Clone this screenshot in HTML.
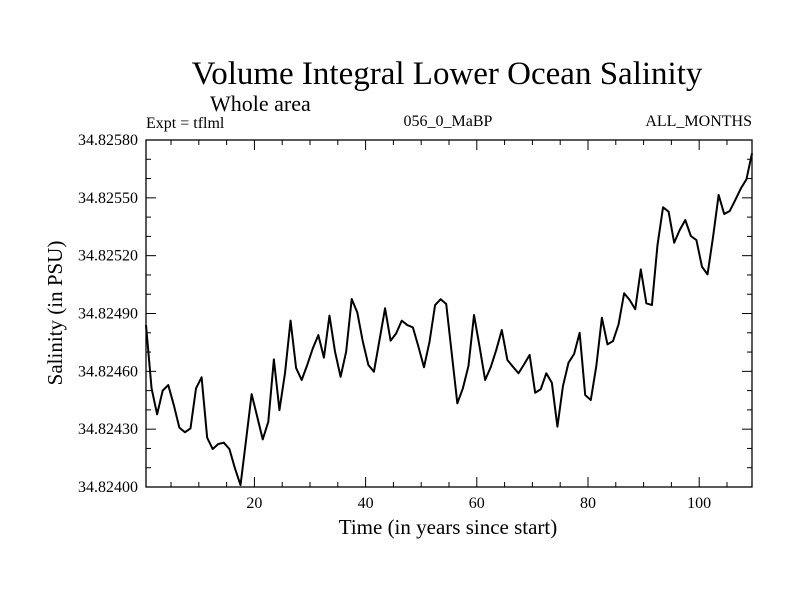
<!DOCTYPE html>
<html><head><meta charset="utf-8"><style>
html,body{margin:0;padding:0;background:#fff;}
svg{display:block;font-family:"Liberation Serif",serif;}
</style></head><body>
<svg id="chart" width="800" height="600" viewBox="0 0 800 600">
<text x="447" y="84" font-size="33" text-anchor="middle">Volume Integral Lower Ocean Salinity</text>
<text x="210" y="111" font-size="22">Whole area</text>
<text x="146" y="128" font-size="16">Expt = tflml</text>
<text x="448" y="126" font-size="16" text-anchor="middle">056_0_MaBP</text>
<text x="752" y="126" font-size="16" text-anchor="end">ALL_MONTHS</text>
<text x="448" y="534" font-size="21" text-anchor="middle">Time (in years since start)</text>
<text transform="translate(62,313) rotate(-90)" font-size="21" text-anchor="middle">Salinity (in PSU)</text>
<g id="axes"></g>
<path id="series" fill="none" stroke="#000" stroke-width="2" stroke-linejoin="round"></path>
<rect x="146" y="140" width="606" height="347" fill="none" stroke="#000" stroke-width="1.3"></rect>
</svg>
<script>
const yValues = [84.0,51.2,37.7,50.0,52.9,42.5,30.8,28.4,30.4,51.2,56.9,25.6,19.7,22.3,23.0,19.7,9.7,1.0,24.4,48.2,
36.5,24.7,33.9,66.2,39.9,59.0,86.3,61.7,55.5,63.3,71.9,78.8,67.1,88.9,70.2,57.2,70.2,97.5,90.6,75.4,
63.3,59.8,76.2,92.7,75.9,79.7,86.3,84.0,82.8,72.8,62.1,75.4,94.4,97.4,94.9,69.1,43.4,51.2,62.8,89.2,
72.8,55.5,62.1,71.1,81.4,65.9,62.4,59.0,63.6,68.5,48.9,50.7,59.0,54.1,31.3,52.4,64.5,69.0,80.0,47.7,
45.1,62.8,87.8,74.0,75.7,84.4,100.5,97.0,92.2,112.9,95.3,94.4,125.5,145.1,142.8,126.7,133.3,138.5,130.2,128.1,
114.3,110.3,129.8,151.5,141.6,143.2,148.9,154.9,159.6,173.1];
const xTickValues = [20,40,60,80,100];
const yTickLabels = ["34.82400","34.82430","34.82460","34.82490","34.82520","34.82550","34.82580"];
const yTickValues = [0,30,60,90,120,150,180];

const L=146,R=752,T=140,B=487;
function xScale(t){return L+(t-0.5)*(R-L)/109;}
function yScale(v){return B-v*(B-T)/180;}
const NS="http://www.w3.org/2000/svg";
const ax=document.getElementById('axes');
function line(x1,y1,x2,y2,name){
  const l=document.createElementNS(NS,'line');
  l.setAttribute('x1',x1);l.setAttribute('y1',y1);l.setAttribute('x2',x2);l.setAttribute('y2',y2);
  l.setAttribute('stroke','#000');l.setAttribute('stroke-width','1');
  
  
  ax.appendChild(l);
}
function text(x,y,s,anchor,name){
  const t=document.createElementNS(NS,'text');
  t.setAttribute('x',x);t.setAttribute('y',y);t.setAttribute('font-size','16');t.setAttribute('text-anchor',anchor);
  t.textContent=s;
  
  
  ax.appendChild(t);
}
for(let t=5;t<=105;t+=5){
  const x=xScale(t), major=t%20===0, len=major?10:5;
  line(x,B,x,B-len,'x-tick');
  line(x,T,x,T+len,'x-tick-top');
}
xTickValues.forEach(v=>text(xScale(v),508,String(v),'middle','x-tick-label'));
for(let v=0;v<=180;v+=10){
  const y=yScale(v), major=v%30===0, len=major?10:5;
  line(L,y,L+len,y,'y-tick');
  line(R,y,R-len,y,'y-tick-right');
}
yTickValues.forEach((v,i)=>text(138,yScale(v)+5,yTickLabels[i],'end','y-tick-label'));
let d='';
yValues.forEach((v,i)=>{d+=(i?'L':'M')+xScale(i+0.5).toFixed(2)+','+yScale(v).toFixed(2);});
document.getElementById('series').setAttribute('d',d);
</script>
</body></html>
